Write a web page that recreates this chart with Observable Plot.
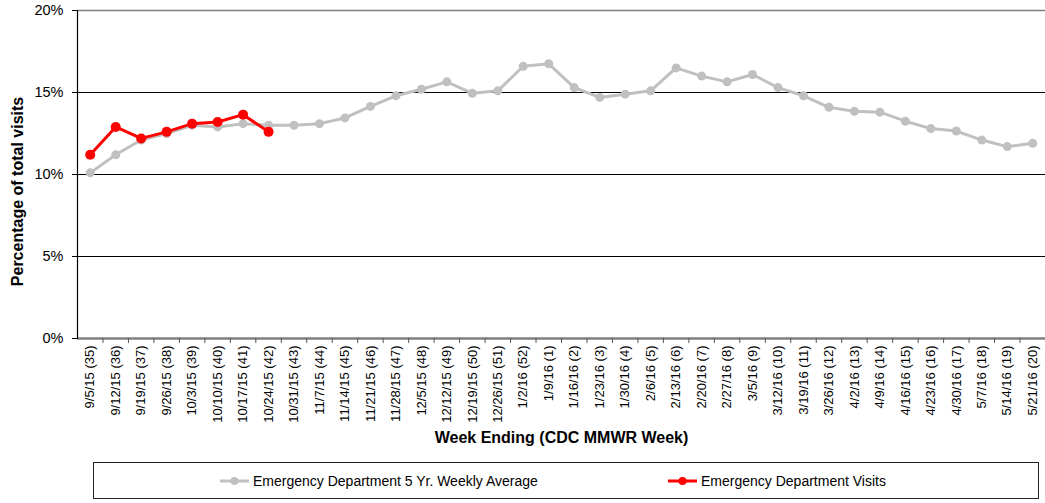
<!DOCTYPE html>
<html>
<head>
<meta charset="utf-8">
<script src="https://cdn.jsdelivr.net/npm/d3@7"></script>
<script src="https://cdn.jsdelivr.net/npm/@observablehq/plot@0.6"></script>
<style>
  html, body { margin: 0; padding: 0; background: #fff; }
  body { width: 1045px; height: 503px; position: relative; font-family: "Liberation Sans", Arial, sans-serif; }
  #chart svg { display: block; overflow: visible; }
  #legend { position: absolute; left: 93px; top: 462px; width: 946px; height: 37px; border: 1px solid #222; box-sizing: border-box; font-size: 14px; color: #000; }
  .item { position: absolute; top: 0; height: 100%; display: flex; align-items: center; }
  .item svg { margin-right: 4px; }
</style>
</head>
<body>
<div id="chart"></div>
<div id="legend"></div>
<script>
const weeks = ["9/5/15 (35)", "9/12/15 (36)", "9/19/15 (37)", "9/26/15 (38)", "10/3/15 (39)", "10/10/15 (40)", "10/17/15 (41)", "10/24/15 (42)", "10/31/15 (43)", "11/7/15 (44)", "11/14/15 (45)", "11/21/15 (46)", "11/28/15 (47)", "12/5/15 (48)", "12/12/15 (49)", "12/19/15 (50)", "12/26/15 (51)", "1/2/16 (52)", "1/9/16 (1)", "1/16/16 (2)", "1/23/16 (3)", "1/30/16 (4)", "2/6/16 (5)", "2/13/16 (6)", "2/20/16 (7)", "2/27/16 (8)", "3/5/16 (9)", "3/12/16 (10)", "3/19/16 (11)", "3/26/16 (12)", "4/2/16 (13)", "4/9/16 (14)", "4/16/16 (15)", "4/23/16 (16)", "4/30/16 (17)", "5/7/16 (18)", "5/14/16 (19)", "5/21/16 (20)"];
const avg5yr = [10.1, 11.2, 12.1, 12.5, 13.0, 12.9, 13.1, 13.0, 13.0, 13.1, 13.45, 14.15, 14.8, 15.2, 15.65, 14.95, 15.1, 16.6, 16.75, 15.3, 14.7, 14.9, 15.1, 16.5, 16.0, 15.65, 16.1, 15.3, 14.8, 14.1, 13.85, 13.8, 13.25, 12.8, 12.65, 12.1, 11.7, 11.9];
const visits = [11.2, 12.9, 12.2, 12.6, 13.1, 13.2, 13.65, 12.6];
const yTicks = [0, 5, 10, 15, 20];
const seriesNames = ["Emergency Department 5 Yr. Weekly Average", "Emergency Department Visits"];
const seriesColors = ["#C0C0C0", "#FF0000"];
const yTitle = "Percentage of total visits";
const xTitle = "Week Ending (CDC MMWR Week)";

const avgData = weeks.map((w, i) => ({week: w, value: avg5yr[i]}));
const visitData = visits.map((v, i) => ({week: weeks[i], value: v}));

const W = 1045, H = 448, mL = 77, mR = 0;
const step = (W - mL - mR) / weeks.length;

const chart = Plot.plot({
  width: W,
  height: H,
  marginLeft: mL,
  marginRight: mR,
  marginTop: 10,
  marginBottom: 110,
  style: {fontFamily: "'Liberation Sans', Arial, sans-serif", background: "#fff", color: "#000"},
  x: {type: "point", domain: weeks, padding: 0.5, round: false},
  y: {domain: [0, 20]},
  marks: [
    Plot.ruleY([5, 10, 15], {stroke: "#000", strokeWidth: 1}),
    Plot.ruleY([20], {stroke: "#808080", strokeWidth: 1.5}),
    Plot.ruleY([0], {stroke: "#808080", strokeWidth: 2.5}),
    Plot.ruleX(weeks.slice(1), {x: d => d, y1: 0, y2: 0, insetTop: 5, dx: -step / 2, stroke: "#555", strokeWidth: 1}),
    Plot.frame({anchor: "left", stroke: "#000", strokeWidth: 1.2}),
    Plot.axisY({ticks: yTicks, tickFormat: d => d + "%", tickSize: 5, tickPadding: 9, fontSize: 14.5, label: null, stroke: "#000"}),
    Plot.axisX({tickRotate: -90, tickSize: 0, tickPadding: 7, fontSize: 13, label: null}),
    Plot.text([yTitle], {frameAnchor: "left", dx: -60, dy: 17, rotate: -90, textAnchor: "middle", fontSize: 16, fontWeight: "bold", fill: "#000"}),
    Plot.text([xTitle], {frameAnchor: "bottom", dy: 104, fontSize: 16, fontWeight: "bold", fill: "#000"}),
    Plot.line(avgData, {x: "week", y: "value", stroke: seriesColors[0], strokeWidth: 3}),
    Plot.dot(avgData, {x: "week", y: "value", fill: seriesColors[0], r: 4.5}),
    Plot.line(visitData, {x: "week", y: "value", stroke: seriesColors[1], strokeWidth: 3}),
    Plot.dot(visitData, {x: "week", y: "value", fill: seriesColors[1], r: 5})
  ]
});
document.getElementById("chart").appendChild(chart);

const legend = document.getElementById("legend");
const lefts = [126, 574];
seriesNames.forEach((name, i) => {
  const item = document.createElement("div");
  item.className = "item";
  item.style.left = lefts[i] + "px";
  item.innerHTML = `<svg width="29" height="12"><line x1="0" y1="6" x2="29" y2="6" stroke="${seriesColors[i]}" stroke-width="3"/><circle cx="14.5" cy="6" r="4" fill="${seriesColors[i]}"/></svg><span>${name}</span>`;
  legend.appendChild(item);
});
</script>
</body>
</html>
